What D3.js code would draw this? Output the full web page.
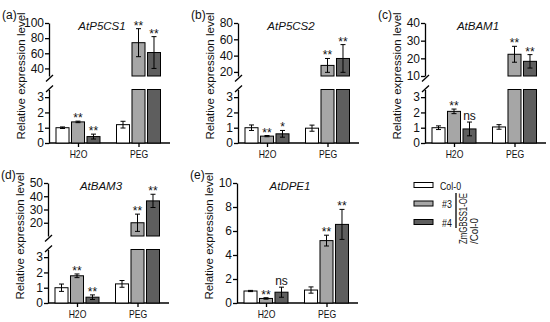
<!DOCTYPE html>
<html>
<head>
<meta charset="utf-8">
<script src="https://cdn.jsdelivr.net/npm/d3@7"></script>
<style>
  body { margin: 0; background: #fff; }
  svg { display: block; font-family: "Liberation Sans", Arial, sans-serif; }
</style>
</head>
<body>
<div id="chart"></div>
<script>
// groups and lines
var groups = ["H2O", "PEG"];
var series = ["Col-0", "#3", "#4"];
var seriesColor = ["#ffffff", "#a6a6a6", "#5e5e5e"];

// mean / sd per group, in series order (Col-0, #3, #4)
var p5cs1Mean = [[1.0, 1.38, 0.42], [1.2, 74, 61]];
var p5cs1Err  = [[0.05, 0.05, 0.16], [0.22, 18.5, 21]];
var p5cs1Sig  = [["", "**", "**"], ["", "**", "**"]];

var p5cs2Mean = [[1.0, 0.45, 0.6], [0.97, 28, 36.5]];
var p5cs2Err  = [[0.18, 0.04, 0.22], [0.2, 8.5, 17]];
var p5cs2Sig  = [["", "**", "*"], ["", "**", "**"]];

var bam1Mean = [[1.0, 2.07, 0.92], [1.05, 22.3, 18.3]];
var bam1Err  = [[0.12, 0.15, 0.45], [0.15, 4.5, 3.8]];
var bam1Sig  = [["", "**", "ns"], ["", "**", "**"]];

var bam3Mean = [[1.0, 1.78, 0.38], [1.25, 20, 36.5]];
var bam3Err  = [[0.24, 0.12, 0.15], [0.22, 6.5, 5]];
var bam3Sig  = [["", "**", "**"], ["", "**", "**"]];

var dpe1Mean = [[1.0, 0.38, 0.9], [1.08, 5.2, 6.55]];
var dpe1Err  = [[0.05, 0.06, 0.42], [0.26, 0.45, 1.25]];
var dpe1Sig  = [["", "**", "ns"], ["", "**", "**"]];

// axis ticks
var lowerTicks = [0, 1, 2, 3];
var p5cs1Upper = [40, 60, 80, 100];
var p5cs2Upper = [20, 40, 60, 80];
var bam1Upper  = [10, 20, 30, 40];
var bam3Upper  = [20, 30, 40, 50];
var dpe1Ticks  = [0, 2, 4, 6, 8, 10];

var panels = [
  {letter: "(a)", gene: "AtP5CS1", mean: p5cs1Mean, err: p5cs1Err, sig: p5cs1Sig,
   x0: 49, row: 0, upper: [30, 100], upperTicks: p5cs1Upper},
  {letter: "(b)", gene: "AtP5CS2", mean: p5cs2Mean, err: p5cs2Err, sig: p5cs2Sig,
   x0: 238, row: 0, upper: [15, 80], upperTicks: p5cs2Upper},
  {letter: "(c)", gene: "AtBAM1", mean: bam1Mean, err: bam1Err, sig: bam1Sig,
   x0: 425, row: 0, upper: [10, 40], upperTicks: bam1Upper},
  {letter: "(d)", gene: "AtBAM3", mean: bam3Mean, err: bam3Err, sig: bam3Sig,
   x0: 48, row: 1, upper: [10, 50], upperTicks: bam3Upper},
  {letter: "(e)", gene: "AtDPE1", mean: dpe1Mean, err: dpe1Err, sig: dpe1Sig,
   x0: 237, row: 1, upper: null, ticks: dpe1Ticks, domain: [0, 10]}
];

var W = 550, H = 322;
var svg = d3.select("#chart").append("svg")
  .attr("width", W).attr("height", H);

var lowerMax = 3.5;
var fmt = d3.format("d");

// the original font is a condensed sans; squeeze Liberation Sans to match
function narrow(sel, k) {
  sel.each(function() {
    var w = this.getComputedTextLength();
    d3.select(this).attr("textLength", w * (k || 0.8)).attr("lengthAdjust", "spacingAndGlyphs");
  });
}

function styleAxis(g) {
  g.select(".domain").attr("stroke", "#000").attr("stroke-width", 1.3);
  g.selectAll(".tick line").attr("stroke", "#000").attr("stroke-width", 1.3);
  g.selectAll(".tick text").attr("font-size", 12).attr("fill", "#111")
    .attr("font-family", null);
}

function drawPanel(p) {
  var top = 23 + p.row * 160,
      bottom = 143 + p.row * 160;
  var g = svg.append("g");

  var yLow, yUp = null;
  if (p.upper) {
    yLow = d3.scaleLinear().domain([0, lowerMax]).range([bottom, bottom - 53.5]);
    yUp = d3.scaleLinear().domain(p.upper).range([top + 53, top]);
  } else {
    yLow = d3.scaleLinear().domain(p.domain).range([bottom, top]);
  }

  var x = d3.scalePoint().domain(groups).range([p.x0 + 29, p.x0 + 89.5]);
  var xs = d3.scaleBand().domain(series).range([-22, 22]).paddingInner(0.16);

  // y axes
  var axLow = g.append("g").attr("transform", "translate(" + p.x0 + ",0)")
    .call(d3.axisLeft(yLow).tickValues(p.upper ? lowerTicks : p.ticks).tickFormat(fmt)
      .tickSize(4).tickSizeOuter(0).tickPadding(1));
  styleAxis(axLow);
  if (yUp) {
    var axUp = g.append("g").attr("transform", "translate(" + p.x0 + ",0)")
      .call(d3.axisLeft(yUp).tickValues(p.upperTicks).tickFormat(fmt)
        .tickSize(4).tickSizeOuter(0).tickPadding(1));
    styleAxis(axUp);
    // break marks
    [yUp.range()[0] + 2, yLow.range()[1] - 1].forEach(function(yy) {
      g.append("line")
        .attr("x1", p.x0 - 3).attr("y1", yy + 3.5)
        .attr("x2", p.x0 + 4).attr("y2", yy - 3)
        .attr("stroke", "#000").attr("stroke-width", 1.3);
    });
  }

  // x axis
  var axX = g.append("g").attr("transform", "translate(0," + bottom + ")")
    .call(d3.axisBottom(x).tickSize(4).tickSizeOuter(0).tickPadding(3));
  axX.select(".domain").remove();
  axX.append("line").attr("x1", p.x0).attr("x2", p.x0 + 121)
    .attr("stroke", "#000").attr("stroke-width", 1.3);
  axX.selectAll(".tick line").attr("stroke", "#000").attr("stroke-width", 1.3);
  axX.selectAll(".tick text").attr("font-size", 11.5).attr("fill", "#111")
    .attr("font-family", null).call(narrow, 0.75);

  // bars
  var cells = [];
  groups.forEach(function(grp, gi) {
    series.forEach(function(s, si) {
      cells.push({grp: grp, s: s, si: si, v: p.mean[gi][si], e: p.err[gi][si], sig: p.sig[gi][si]});
    });
  });

  var bars = g.append("g");
  cells.forEach(function(d) {
    var bx = x(d.grp) + xs(d.s), bw = xs.bandwidth();
    var broken = yUp && d.v > lowerMax;
    var yScale = broken ? yUp : yLow;
    if (broken) {
      bars.append("rect").attr("x", bx).attr("width", bw)
        .attr("y", yLow(lowerMax)).attr("height", yLow(0) - yLow(lowerMax))
        .attr("fill", seriesColor[d.si]).attr("stroke", "#000").attr("stroke-width", 1);
      bars.append("rect").attr("x", bx).attr("width", bw)
        .attr("y", yUp(d.v)).attr("height", yUp(p.upper[0]) - yUp(d.v))
        .attr("fill", seriesColor[d.si]).attr("stroke", "#000").attr("stroke-width", 1);
    } else {
      bars.append("rect").attr("x", bx).attr("width", bw)
        .attr("y", yLow(d.v)).attr("height", yLow(0) - yLow(d.v))
        .attr("fill", seriesColor[d.si]).attr("stroke", "#000").attr("stroke-width", 1);
    }
    // error bar
    var cx = bx + bw / 2,
        y1 = yScale(d.v + d.e), y2 = yScale(Math.max(0, d.v - d.e));
    bars.append("line").attr("x1", cx).attr("x2", cx).attr("y1", y1).attr("y2", y2)
      .attr("stroke", "#000").attr("stroke-width", 1);
    [y1, y2].forEach(function(yy) {
      bars.append("line").attr("x1", cx - 2.5).attr("x2", cx + 2.5).attr("y1", yy).attr("y2", yy)
        .attr("stroke", "#000").attr("stroke-width", 1);
    });
    if (d.sig) {
      bars.append("text").attr("x", cx).attr("y", d.sig == "ns" ? y1 - 2 : y1 + 1)
        .attr("text-anchor", "middle").attr("font-size", 12).attr("fill", "#111")
        .text(d.sig);
    }
  });

  // titles
  g.append("text").attr("x", p.x0 + 53).attr("y", 30 + p.row * 160)
    .attr("text-anchor", "middle").attr("font-size", 11.5).attr("font-style", "italic")
    .attr("fill", "#111").text(p.gene);

  g.append("text").attr("x", p.x0 - 47).attr("y", 19 + p.row * 160)
    .attr("font-size", 12).attr("fill", "#111").text(p.letter);

  g.append("text")
    .attr("transform", "translate(" + (p.x0 - 24.5) + "," + (76 + p.row * 160) + ") rotate(-90)")
    .attr("text-anchor", "middle").attr("font-size", 11.5).attr("fill", "#111")
    .text("Relative expression level");
}

panels.forEach(drawPanel);

// legend
var leg = svg.append("g");
var legY = d3.scalePoint().domain(series).range([185, 222]);
series.forEach(function(s, i) {
  leg.append("rect").attr("x", 414).attr("y", legY(s) - 2.5).attr("width", 19).attr("height", 5)
    .attr("fill", seriesColor[i]).attr("stroke", "#000").attr("stroke-width", 1);
  leg.append("text").attr("x", i == 0 ? 440 : 442).attr("y", legY(s) + 4.5)
    .attr("font-size", 11).attr("fill", "#111").text(s).call(narrow, 0.8);
});
leg.append("line").attr("x1", 456).attr("x2", 456).attr("y1", 193).attr("y2", 228)
  .attr("stroke", "#000").attr("stroke-width", 1.3);
leg.append("text").attr("transform", "translate(467,244) rotate(-90)")
  .attr("font-size", 10).attr("fill", "#111").text("ZmGBSS1-OE")
  .attr("textLength", 51).attr("lengthAdjust", "spacingAndGlyphs");
leg.append("text").attr("transform", "translate(478,244) rotate(-90)")
  .attr("font-size", 10).attr("fill", "#111").text("/Col-0")
  .attr("textLength", 26).attr("lengthAdjust", "spacingAndGlyphs");
</script>
</body>
</html>
